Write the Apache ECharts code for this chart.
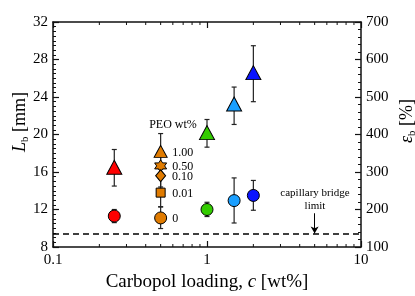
<!DOCTYPE html>
<html><head><meta charset="utf-8">
<script src="https://cdn.jsdelivr.net/npm/echarts@6/dist/echarts.min.js"></script>
<style>html,body{margin:0;padding:0;background:#fff}#c{width:415px;height:296px}</style>
</head><body><div id="c"></div>
<script>
// ---- data ----
const triC = [0.25, 1, 1.5, 2];
const triL = [16.5, 20.2, 23.25, 26.6];
const triLo = [14.5, 18.65, 21.07, 23.5];
const triHi = [18.4, 21.6, 25.06, 29.47];
const cirC = [0.25, 1, 1.5, 2];
const cirL = [11.3, 12.0, 12.95, 13.5];
const cirLo = [10.6, 11.25, 10.56, 11.92];
const cirHi = [12.0, 12.77, 15.37, 15.1];
const pointColors = ['#ff0000', '#33cc00', '#1a9fff', '#0a14ff'];
const peoC = [0.5, 0.5, 0.5, 0.5, 0.5];
const peoLabels = ['1.00', '0.50', '0.10', '0.01', '0'];
const peoL = [18.2, 16.65, 15.6, 13.8, 11.1];
const peoLo = [16.3, 15.3, 14.4, 12.3, 9.97];
const peoHi = [20.1, 18.0, 16.8, 15.3, 12.27];
const capillaryLimit = 9.4;
const arrowC = 5;
const arrowFrom = 11.6;
const xMajor = [0.1, 1, 10];
const xMinor = [0.2,0.3,0.4,0.5,0.6,0.7,0.8,0.9,2,3,4,5,6,7,8,9];
const yMin = 8, yMax = 32;

const FONT = 'Liberation Serif';
const AX = '#111';
const star = 'path://M0,-10 L2.887,-5 L8.66,-5 L5.774,0 L8.66,5 L2.887,5 L0,10 L-2.887,5 L-8.66,5 L-5.774,0 L-8.66,-5 L-2.887,-5 Z';
const peoSymbols = ['triangle', star, 'diamond', 'rect', 'circle'];
const peoSizes = [[13, 12], [12, 12], [10, 12], [9, 9], [12, 12]];
const orange = '#e07b00';

function errData(cs, lo, hi) { return cs.map((c, i) => [c, lo[i], hi[i]]); }
function errSeries(data) {
  return {
    type: 'custom', z: 1, data: data, encode: { x: 0, y: [1, 2] },
    renderItem(params, api) {
      const x = api.value(0), lo = api.value(1), hi = api.value(2);
      const p1 = api.coord([x, hi]), p2 = api.coord([x, lo]);
      const w = 2.5, st = { stroke: '#222', lineWidth: 1.2 };
      return { type: 'group', children: [
        { type: 'line', shape: { x1: p1[0], y1: p1[1], x2: p2[0], y2: p2[1] }, style: st },
        { type: 'line', shape: { x1: p1[0] - w, y1: p1[1], x2: p1[0] + w, y2: p1[1] }, style: st },
        { type: 'line', shape: { x1: p2[0] - w, y1: p2[1], x2: p2[0] + w, y2: p2[1] }, style: st }
      ] };
    }
  };
}

const baseX = {
  type: 'log', logBase: 10, min: 0.1, max: 10, gridIndex: 0,
  splitLine: { show: false }, minorTick: { show: false }
};
const option = {
  animation: false,
  textStyle: { fontFamily: FONT },
  grid: { left: 53, right: 54, top: 22, bottom: 49, containLabel: false },
  xAxis: [
    Object.assign({}, baseX, {
      position: 'bottom',
      axisLine: { show: true, lineStyle: { color: AX, width: 1.5 } },
      axisTick: { show: true, inside: true, length: 6, lineStyle: { color: AX, width: 1.2 }, customValues: xMajor },
      axisLabel: { show: true, fontSize: 15, color: '#000', fontFamily: FONT, margin: 6, customValues: xMajor,
        formatter: v => String(v) }
    }),
    Object.assign({}, baseX, {
      position: 'top',
      axisLine: { show: true, lineStyle: { color: AX, width: 1.5 } },
      axisTick: { show: true, inside: true, length: 6, lineStyle: { color: AX, width: 1.2 }, customValues: xMajor },
      axisLabel: { show: false }
    })
  ],
  yAxis: [
    {
      type: 'value', min: yMin, max: yMax, interval: 4, position: 'left',
      splitLine: { show: false },
      axisLine: { show: true, lineStyle: { color: AX, width: 1.5 } },
      axisTick: { show: true, inside: true, length: 6, lineStyle: { color: AX, width: 1.2 } },
      minorTick: { show: true, splitNumber: 8, length: 3, lineStyle: { color: AX, width: 1 } },
      axisLabel: { fontSize: 15, color: '#000', fontFamily: FONT, margin: 5 }
    },
    {
      type: 'value', min: 100, max: 700, interval: 100, position: 'right',
      splitLine: { show: false },
      axisLine: { show: true, lineStyle: { color: AX, width: 1.5 } },
      axisTick: { show: true, inside: true, length: 6, lineStyle: { color: AX, width: 1.2 } },
      minorTick: { show: true, splitNumber: 5, length: 3, lineStyle: { color: AX, width: 1 } },
      axisLabel: { fontSize: 15, color: '#000', fontFamily: FONT, margin: 5 }
    }
  ],
  series: [
    {
      // minor log ticks on bottom and top x axes
      type: 'custom', z: 5, silent: true, data: xMinor.map(v => [v]), encode: { x: 0 },
      renderItem(params, api) {
        const v = api.value(0);
        const b = api.coord([v, yMin]), t = api.coord([v, yMax]);
        const st = { stroke: AX, lineWidth: 1 };
        return { type: 'group', children: [
          { type: 'line', shape: { x1: b[0], y1: b[1], x2: b[0], y2: b[1] - 3 }, style: st },
          { type: 'line', shape: { x1: t[0], y1: t[1], x2: t[0], y2: t[1] + 3 }, style: st }
        ] };
      }
    },
    errSeries(errData(triC, triLo, triHi)),
    errSeries(errData(cirC, cirLo, cirHi)),
    errSeries(errData(peoC, peoLo, peoHi)),
    {
      type: 'scatter', z: 3, symbol: 'triangle', symbolSize: [15, 14],
      itemStyle: { borderColor: '#000', borderWidth: 1, opacity: 1 },
      data: triC.map((c, i) => ({ value: [c, triL[i]], itemStyle: { color: pointColors[i] } }))
    },
    {
      type: 'scatter', z: 3, symbol: 'circle', symbolSize: 12,
      itemStyle: { borderColor: '#000', borderWidth: 1, opacity: 1 },
      data: cirC.map((c, i) => ({ value: [c, cirL[i]], itemStyle: { color: pointColors[i] } }))
    },
    {
      type: 'scatter', z: 3, symbolKeepAspect: false,
      itemStyle: { color: orange, borderColor: '#000', borderWidth: 1, opacity: 1 },
      label: { show: true, position: 'right', color: '#000', fontSize: 12, fontFamily: FONT },
      data: peoC.map((c, i) => ({
        value: [c, peoL[i]], symbol: peoSymbols[i], symbolSize: peoSizes[i],
        label: { formatter: peoLabels[i], distance: 11 - peoSizes[i][0] / 2, offset: [0, 1] }
      })),
      markLine: {
        silent: true, symbol: ['none', 'none'], animation: false,
        lineStyle: { color: '#000', type: [6, 4], width: 1.5 },
        label: { show: false },
        data: [{ yAxis: capillaryLimit }]
      }
    },
    {
      type: 'line', z: 4, data: [], showSymbol: false,
      markLine: {
        silent: true, symbol: ['none', 'arrow'], symbolSize: [6, 7], animation: false,
        lineStyle: { color: '#000', type: 'solid', width: 1 },
        label: { show: false },
        data: [[{ coord: [arrowC, arrowFrom] }, { coord: [arrowC, capillaryLimit + 0.05] }]]
      }
    }
  ],
  graphic: [
    { type: 'text', x: 173, y: 125, style: { text: 'PEO wt%', font: '12px "Liberation Serif"', fill: '#000', textAlign: 'center', textVerticalAlign: 'middle' } },
    { type: 'text', x: 315, y: 193, style: { text: 'capillary bridge', font: '11px "Liberation Serif"', fill: '#000', textAlign: 'center', textVerticalAlign: 'middle' } },
    { type: 'text', x: 315, y: 206, style: { text: 'limit', font: '11px "Liberation Serif"', fill: '#000', textAlign: 'center', textVerticalAlign: 'middle' } },
    { type: 'text', x: 207, y: 282, style: {
        text: '{a|Carbopol loading, }{i|c}{a| [wt%]}', textAlign: 'center', textVerticalAlign: 'middle',
        rich: { a: { fontSize: 19, fontFamily: FONT, fill: '#000' }, i: { fontSize: 19, fontFamily: FONT, fontStyle: 'italic', fill: '#000' } } } },
    { type: 'text', x: 20, y: 122, rotation: Math.PI / 2, style: {
        text: '{i|L}{s|b}{a| [mm]}', textAlign: 'center', textVerticalAlign: 'middle',
        rich: { a: { fontSize: 18, fontFamily: FONT, fill: '#000', lineHeight: 22 },
                i: { fontSize: 18, fontFamily: FONT, fontStyle: 'italic', fill: '#000', lineHeight: 22 },
                s: { fontSize: 11, fontFamily: FONT, fill: '#000', lineHeight: 22, verticalAlign: 'bottom' } } } },
    { type: 'text', x: 407, y: 121, rotation: Math.PI / 2, style: {
        text: '{i|ε}{s|b}{a| [%]}', textAlign: 'center', textVerticalAlign: 'middle',
        rich: { a: { fontSize: 18, fontFamily: FONT, fill: '#000', lineHeight: 22 },
                i: { fontSize: 18, fontFamily: FONT, fontStyle: 'italic', fill: '#000', lineHeight: 22 },
                s: { fontSize: 11, fontFamily: FONT, fill: '#000', lineHeight: 22, verticalAlign: 'bottom' } } } }
  ]
};
const chart = echarts.init(document.getElementById('c'), null, { renderer: 'canvas' });
chart.setOption(option);
</script></body></html>
